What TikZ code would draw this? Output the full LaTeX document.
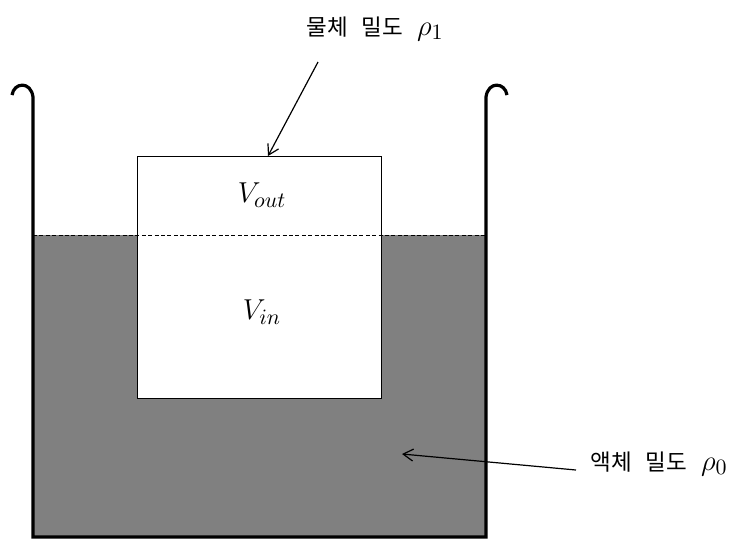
\documentclass[tikz,border=0pt]{standalone}
\usepackage{fontspec}
\usepackage{amsmath}
\usepackage{tikz}
\usetikzlibrary{arrows.meta}
\newfontfamily\kr[Scale=0.75]{Noto Sans CJK KR}

\begin{document}
\begin{tikzpicture}[x=0.5pt,y=-0.5pt,every node/.style={font=\fontsize{15}{18}\selectfont},
  >={Straight Barb[length=5pt,width=6pt]}]
\useasboundingbox (0,0) rectangle (738,548);
%[water first, then the block on top]
\fill [gray] (33,235) rectangle (486,537);

\path (259,277) node (block) [draw,fill=white,line width=0.5pt,minimum width=122pt,minimum height=121pt] {};
\path (262,195) node (vout) {$V_{out}$};
\path (262,312) node (vin) {$V_{in}$};
\draw [dash pattern=on 2pt off 1.2pt,line width=0.4pt] (33,235) -- (486,235);

% container
\draw [line width=1.6pt] (12,95) .. controls (14,82) and (31,81) .. (33,97) -- (33,537) -- (486,537) -- (486,97) .. controls (488,81) and (505,82) .. (507,95);

\path (375,29) node (solid) {\kr 물체\hspace{4.5pt} 밀도\hspace{4.5pt} $\rho_1$};
\path (659,464) node (liquid) {\kr 액체\hspace{4.5pt} 밀도\hspace{4.5pt} $\rho_0$};

\coordinate (s1) at (318,62);
\coordinate (t1) at (268,156);
\coordinate (s2) at (576,470);
\coordinate (t2) at (402,454);

\draw [->,line width=0.6pt] (s1) to (t1);
\draw [->,line width=0.6pt] (s2) to (t2);

\end{tikzpicture}
\end{document}
